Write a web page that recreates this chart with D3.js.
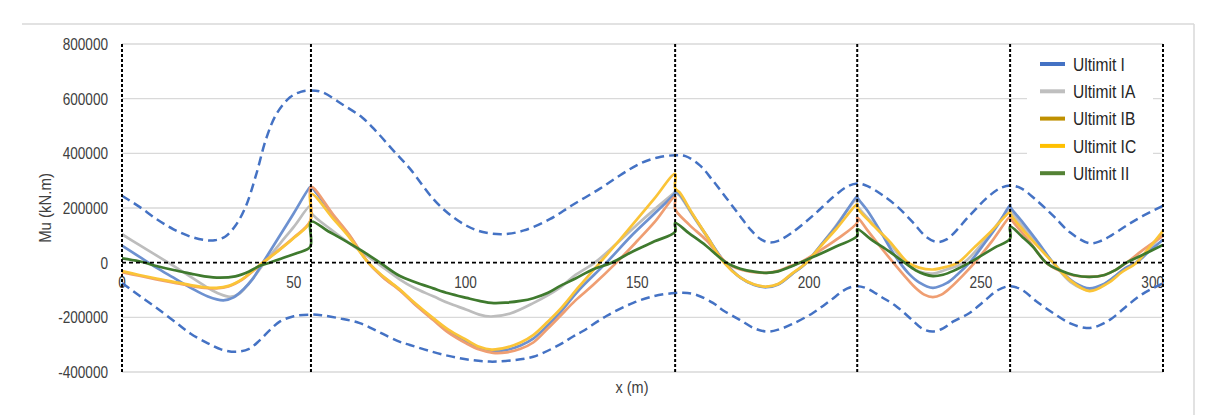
<!DOCTYPE html>
<html lang='en'>
<head>
<meta charset='utf-8'/>
<title>Mu envelope</title>
<script src='https://d3js.org/d3.v7.min.js'></script>
<style>
  body { margin: 0; background: #ffffff; }
  text { font-family: 'Liberation Sans', Arial, sans-serif; fill: #404040; }
</style>
</head>
<body>
<script>
'use strict'
const width = 1208
const height = 415
const margin = {top: 44, right: 45, bottom: 43, left: 122}
const squeeze = 0.8   // the reference text is narrow, like Arial Narrow

// supports (m)
const supports = [0, 55, 161, 214, 258.5, 303]
const xTicks = [0, 50, 100, 150, 200, 250, 300]
const yTicks = [-400000, -200000, 0, 200000, 400000, 600000, 800000]

// [x (m), Mu (kN.m)]
const ultimI = [
  [0, 62000], [5, 22000], [10, -18000], [15, -55000], [20, -92000], [25, -124000], [29.5, -138000], [32.5, -127000], [35.3, -98000], [38, -60000], [41, 0], [45, 80000], [50, 181000], [54.7, 276000],
  [55, 277000], [61.5, 172000], [66, 102000], [71.7, 0], [76, -52000], [80.9, -100000], [85, -148000], [90.6, -206000], [95, -250000], [100.3, -290000], [104, -314000], [107.6, -324000], [112, -319000], [116, -303000], [119.7, -278000], [124, -228000], [127.4, -184000], [133, -100000], [141, 0], [148, 95000], [155, 180000], [161, 256000],
  [161, 262000], [162.3, 250000], [166, 178000], [170.1, 100000], [175.5, 0], [180, -55000], [184, -82000], [187.6, -90000], [191, -80000], [195, -42000], [199.2, 0], [203, 58000], [208, 135000], [214, 245000],
  [214, 240000], [217, 190000], [220.5, 120000], [224, 45000], [226.4, 0], [229, -40000], [232, -72000], [236, -92000], [240, -75000], [243, -45000], [246.7, 0], [251, 70000], [255, 140000], [258.5, 212000],
  [258.5, 206000], [262, 150000], [266, 85000], [271, 0], [274, -40000], [277.5, -75000], [281.6, -94000], [285.5, -80000], [289, -50000], [292, -20000], [295.3, 0], [299, 42000], [303, 84000]
]
const ultimIA = [
  [0, 104000], [5, 65000], [10, 27000], [15, -12000], [20, -52000], [25, -92000], [28.5, -115000], [31.5, -125000], [34, -115000], [37, -75000], [41.5, 0], [46, 70000], [50, 131000], [54.8, 208000],
  [55, 184000], [61.5, 115000], [68, 55000], [74.1, 0], [80.9, -62000], [85, -92000], [90.6, -123000], [95, -148000], [100.3, -172000], [104, -190000], [107.3, -197000], [113, -186000], [119.7, -148000], [127.4, -92000], [132, -45000], [137.6, 0], [144, 70000], [150, 140000], [155, 195000], [161, 258000],
  [161, 258000], [162.3, 245000], [166, 175000], [170.1, 98000], [175.5, 0], [180, -55000], [184, -80000], [187.6, -88000], [191, -78000], [195, -42000], [199.2, 0], [206, 105000], [214, 233000],
  [214, 210000], [218, 150000], [223.4, 72000], [228, 0], [232, -32000], [236, -40000], [240, -25000], [245, 0], [251, 80000], [258.5, 200000],
  [258.5, 196000], [265, 88000], [271, 0], [276, -70000], [281.6, -100000], [287, -70000], [291, -30000], [295, 0], [303, 108000]
]
const ultimIB = [
  [0, -35000], [5, -48000], [10, -61000], [15, -73000], [20, -85000], [24, -92000], [27.5, -94000], [31, -87000], [35, -62000], [38, -32000], [41, 0], [45, 40000], [50, 92000], [54.8, 153000],
  [55, 277000], [61.5, 175000], [66, 105000], [71.7, 0], [76, -54000], [80.9, -102000], [85, -150000], [90.6, -210000], [95, -256000], [100.3, -296000], [104, -318000], [108, -330000], [112, -328000], [116, -315000], [119.7, -292000], [124, -240000], [127.4, -197000], [132, -138000], [137.1, -82000], [143.9, 0], [150, 80000], [155, 148000], [161, 240000],
  [161, 196000], [165, 140000], [170.1, 82000], [175.9, 0], [180, -25000], [184, -35000], [187.6, -37000], [191, -30000], [194, -15000], [197.3, 0], [202, 35000], [208, 85000], [214, 147000],
  [214, 166000], [217, 118000], [220.5, 62000], [224.5, 0], [228, -52000], [231, -93000], [233.5, -117000], [236, -126000], [238.5, -117000], [241, -93000], [244.5, -50000], [248.2, 0], [253, 75000], [258.5, 170000],
  [258.5, 165000], [264, 80000], [269, 0], [273, -30000], [277, -47000], [281.6, -52000], [286, -45000], [289, -28000], [292.4, 0], [297, 45000], [303, 98000]
]
const ultimIC = [
  [0, -31000], [5, -45000], [10, -58000], [15, -70000], [20, -82000], [24, -90000], [27.5, -92000], [31, -85000], [35, -60000], [38, -30000], [41, 0], [45, 38000], [50, 90000], [54.8, 150000],
  [55, 252000], [61.5, 160000], [66, 95000], [71.7, 0], [76, -50000], [80.9, -98000], [85, -145000], [90.6, -203000], [95, -245000], [100.3, -283000], [104, -308000], [107.6, -318000], [112, -310000], [116, -292000], [119.7, -265000], [124, -215000], [127.4, -172000], [133, -88000], [139.1, 0], [145, 85000], [150, 160000], [155, 235000], [161, 325000],
  [161, 272000], [162.3, 257000], [166, 180000], [170.1, 100000], [175.2, 0], [180, -55000], [184, -80000], [187.6, -88000], [191, -78000], [195, -40000], [199.2, 0], [203, 55000], [208, 125000], [214, 214000],
  [214, 202000], [218, 145000], [223.4, 78000], [228.8, 0], [232, -18000], [236, -25000], [240, -15000], [243.3, 0], [248, 55000], [253, 115000], [258.5, 186000],
  [258.5, 180000], [264, 95000], [271, 0], [276, -65000], [281.6, -104000], [287, -75000], [291, -35000], [295.3, 0], [299, 55000], [303, 116000]
]
const ultimII = [
  [0, 16000], [5, 5000], [10, -12000], [15, -27000], [20, -40000], [24, -50000], [28.5, -55000], [33, -50000], [37, -32000], [40, -12000], [43, 0], [47, 18000], [51, 35000], [54.8, 58000],
  [55, 150000], [60, 115000], [65, 80000], [70, 42000], [75.1, 0], [80.9, -49000], [85, -70000], [90.6, -94000], [95, -112000], [100.3, -129000], [104, -140000], [108.2, -148000], [112, -146000], [116, -140000], [119.7, -130000], [124, -110000], [127.4, -86000], [132, -58000], [137, -25000], [142.5, 0], [148.8, 42000], [155, 78000], [161, 113000],
  [161, 145000], [165, 108000], [170, 62000], [175.9, 0], [180, -22000], [184, -33000], [187.6, -37000], [191, -32000], [194, -18000], [197.3, 0], [202, 25000], [208, 60000], [214, 98000],
  [214, 123000], [218, 85000], [223.4, 40000], [227.8, 0], [231, -28000], [233.5, -42000], [236, -49000], [239, -44000], [242, -30000], [246.7, 0], [250, 25000], [254, 55000], [258.5, 88000],
  [258.5, 132000], [262, 95000], [265, 60000], [269, 0], [273, -28000], [277, -45000], [281.6, -52000], [286, -45000], [289, -28000], [292.4, 0], [297, 28000], [303, 65000]
]
const envUpper = [
  [0, 245000], [5, 205000], [10, 160000], [15, 122000], [20, 95000], [24, 83000], [27, 82000], [30, 95000], [33, 135000], [36, 205000], [39, 320000], [42, 455000], [45, 545000], [48.9, 605000], [52, 625000], [55, 630000], [58, 625000], [64.4, 577000], [70, 530000], [74.1, 479000], [79, 410000], [83.8, 344000], [90.6, 233000], [95, 180000], [100.3, 135000], [105, 112000], [110.9, 104000], [117, 118000], [124.5, 159000], [131, 210000], [139, 270000], [145, 320000], [150.7, 362000], [156, 385000], [161, 393000], [164, 390000], [168.2, 356000], [172, 300000], [176, 235000], [179.8, 172000], [183, 120000], [186, 85000], [188.5, 74000], [191, 80000], [195, 110000], [201.1, 172000], [207, 240000], [211, 278000], [214, 290000], [217, 280000], [221, 250000], [225.4, 208000], [230, 150000], [234, 95000], [237, 76000], [240, 85000], [246.7, 172000], [252, 240000], [256, 275000], [259, 282000], [262, 270000], [266, 230000], [271, 172000], [276, 110000], [281.6, 71000], [285, 80000], [288, 100000], [292.3, 135000], [297, 170000], [303, 208000]
]
const envLower = [
  [0, -74000], [5, -120000], [10, -165000], [15.9, -221000], [20, -260000], [25, -295000], [29, -318000], [33.4, -326000], [37, -315000], [40, -285000], [43.1, -246000], [46, -215000], [50, -196000], [54.7, -190000], [58, -192000], [63, -203000], [69.2, -221000], [75, -255000], [80.9, -290000], [83.8, -301000], [90, -325000], [95.4, -342000], [101, -355000], [107.1, -362000], [113, -358000], [119.7, -344000], [127.4, -300000], [131.3, -270000], [134.2, -250000], [141, -195000], [148.8, -147000], [155, -122000], [160, -112000], [163.3, -110000], [167, -117000], [172, -147000], [175, -175000], [179.8, -209000], [184, -240000], [187.6, -252000], [191, -245000], [195, -225000], [201.1, -184000], [206, -140000], [211, -95000], [214, -86000], [217, -95000], [221, -125000], [225.4, -160000], [230, -210000], [233, -242000], [236, -252000], [239, -240000], [242, -215000], [246.7, -184000], [251, -140000], [255, -100000], [258.6, -86000], [262, -100000], [266, -140000], [271, -184000], [276, -222000], [280.7, -239000], [284, -232000], [288, -205000], [292.3, -160000], [297, -115000], [303, -75000]
]

const series = [
  {name: 'Ultimit IA', data: ultimIA, stroke: '#bdbdbd', legend: '#bfbfbf'},
  {name: 'Ultimit I', data: ultimI, stroke: '#6d91d0', legend: '#4472c4'},
  {name: 'Ultimit IB', data: ultimIB, stroke: '#ef9e72', legend: '#bf9000'},
  {name: 'Ultimit IC', data: ultimIC, stroke: '#fbc437', legend: '#ffc000'},
  {name: 'Ultimit II', data: ultimII, stroke: '#3f7a2e', legend: '#548235'}
]
const legendOrder = ['Ultimit I', 'Ultimit IA', 'Ultimit IB', 'Ultimit IC', 'Ultimit II']

const svg = d3.select('body').append('svg')
  .attr('width', width)
  .attr('height', height)

svg.append('rect').attr('width', width).attr('height', height).attr('fill', '#ffffff')

// chart frame (only top and right edges show)
svg.append('line').attr('x1', 22).attr('x2', 1194).attr('y1', 24).attr('y2', 24)
  .attr('stroke', '#d9d9d9').attr('stroke-width', 1.5)
svg.append('line').attr('x1', 1194).attr('x2', 1194).attr('y1', 24).attr('y2', height)
  .attr('stroke', '#d9d9d9').attr('stroke-width', 1.5)

const x = d3.scaleLinear().domain([0, 303]).range([margin.left, width - margin.right])
const y = d3.scaleLinear().domain([-400000, 800000]).range([height - margin.bottom, margin.top])

// gridlines
svg.append('g').selectAll('line').data(yTicks.filter(d => d !== 0)).join('line')
  .attr('x1', x(0)).attr('x2', x(303))
  .attr('y1', d => y(d)).attr('y2', d => y(d))
  .attr('stroke', '#d9d9d9').attr('stroke-width', 1.3)

// y tick labels
svg.append('g').selectAll('text').data(yTicks).join('text')
  .attr('transform', d => `translate(108,${y(d)}) scale(${squeeze},1)`)
  .attr('dy', '0.35em')
  .attr('text-anchor', 'end').attr('font-size', 17)
  .text(d => d)

// x tick labels, placed under the zero line
svg.append('g').selectAll('text').data(xTicks).join('text')
  .attr('transform', d => `translate(${x(d)},${y(0) + 25}) scale(${squeeze},1)`)
  .attr('text-anchor', 'middle').attr('font-size', 17)
  .text(d => d)

// axis titles
svg.append('text')
  .attr('transform', `translate(51,${y(200000)}) rotate(-90) scale(0.88,1)`)
  .attr('text-anchor', 'middle').attr('font-size', 17)
  .text('Mu (kN.m)')
svg.append('text')
  .attr('transform', `translate(632,393) scale(0.85,1)`)
  .attr('text-anchor', 'middle').attr('font-size', 17)
  .text('x (m)')

const line = d3.line()
  .x(d => x(d[0]))
  .y(d => y(d[1]))
  .curve(d3.curveCatmullRom.alpha(0.5))

// envelopes
svg.append('g').selectAll('path').data([envUpper, envLower]).join('path')
  .attr('d', line)
  .attr('fill', 'none')
  .attr('stroke', '#4472c4')
  .attr('stroke-width', 2.5)
  .attr('stroke-dasharray', '9,5')

// combinations
svg.append('g').selectAll('path').data(series).join('path')
  .attr('d', d => line(d.data))
  .attr('fill', 'none')
  .attr('stroke', d => d.stroke)
  .attr('stroke-width', 2.7)
  .attr('stroke-linejoin', 'round')

// zero line
svg.append('line')
  .attr('x1', x(0)).attr('x2', x(303))
  .attr('y1', y(0)).attr('y2', y(0))
  .attr('stroke', '#000000').attr('stroke-width', 1.8)
  .attr('stroke-dasharray', '4,3')

// legend box
const lg = svg.append('g')
lg.append('rect').attr('x', 1027).attr('y', 48).attr('width', 126).attr('height', 138).attr('fill', '#ffffff')
legendOrder.forEach((name, i) => {
  const s = series.find(d => d.name === name)
  const ly = 64 + i * 27.3
  lg.append('line').attr('x1', 1040).attr('x2', 1065).attr('y1', ly).attr('y2', ly)
    .attr('stroke', s.legend).attr('stroke-width', 4)
  lg.append('text')
    .attr('transform', `translate(1073,${ly}) scale(0.82,1)`)
    .attr('dy', '0.35em')
    .attr('font-size', 19).style('fill', '#262626')
    .text(name)
})

// support lines
svg.append('g').selectAll('line').data(supports).join('line')
  .attr('x1', d => x(d)).attr('x2', d => x(d))
  .attr('y1', y(800000)).attr('y2', y(-400000))
  .attr('stroke', '#000000').attr('stroke-width', 2)
  .attr('stroke-dasharray', '3,2')
</script>
</body>
</html>
